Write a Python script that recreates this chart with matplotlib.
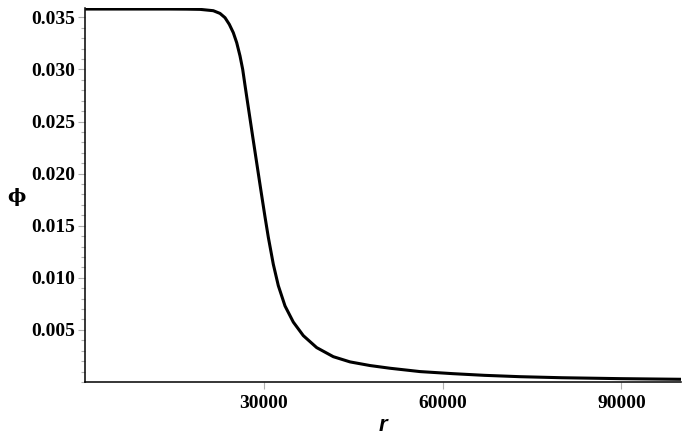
import matplotlib
matplotlib.use("Agg")
import matplotlib.pyplot as plt
from matplotlib.ticker import MultipleLocator, FixedLocator

r_vals = [0, 5000, 10000, 14000, 17000, 19256, 21489, 22614, 23453, 24175,
          24846, 25417, 25971, 26424, 26810, 27196, 27649, 28103, 28489,
          28875, 29328, 29613, 30167, 30721, 31561, 32400, 33525, 34918,
          36597, 38846, 41634, 44437, 47795, 51150, 56180, 61720, 67000,
          72970, 80000, 90000, 100000]
phi_vals = [0.03580, 0.03580, 0.03580, 0.03580, 0.03579, 0.03577, 0.03564,
            0.03538, 0.03497, 0.03433, 0.03353, 0.03257, 0.03130, 0.03000,
            0.02848, 0.02700, 0.02528, 0.02355, 0.02210, 0.02065, 0.01895,
            0.01789, 0.01585, 0.01390, 0.01130, 0.00925, 0.00730, 0.00575,
            0.00445, 0.00330, 0.00243, 0.00193, 0.00158, 0.00132, 0.00100,
            0.00080, 0.00064, 0.00051, 0.00041, 0.00032, 0.00026]

x_ticks = [30000, 60000, 90000]
x_tick_labels = ["30000", "60000", "90000"]
y_ticks = [0.005, 0.010, 0.015, 0.020, 0.025, 0.030, 0.035]
y_tick_labels = ["0.005", "0.010", "0.015", "0.020", "0.025", "0.030", "0.035"]

W, H = 687, 444
fig = plt.figure(figsize=(W / 100, H / 100), dpi=100)
ax = fig.add_axes([85.3 / W, (H - 382) / H, (681 - 85.3) / W, (382 - 8) / H])

ax.plot(r_vals, phi_vals, color="black", linewidth=2.2,
        solid_capstyle="butt", solid_joinstyle="round")
ax.set_xlim(0, 100000)
ax.set_ylim(0, 0.0359)

for s in ("top", "right"):
    ax.spines[s].set_visible(False)
for s in ("left", "bottom"):
    ax.spines[s].set_linewidth(1.1)
    ax.spines[s].set_color("black")

ax.xaxis.set_major_locator(FixedLocator(x_ticks))
ax.set_xticklabels(x_tick_labels)
ax.yaxis.set_major_locator(FixedLocator(y_ticks))
ax.set_yticklabels(y_tick_labels)
ax.yaxis.set_minor_locator(MultipleLocator(0.001))

ax.tick_params(axis="both", which="major", direction="out", length=5,
               width=0.8, color="#b0b0b0")
ax.tick_params(axis="y", which="minor", direction="out", length=3,
               width=0.8, color="#b0b0b0")
ax.tick_params(axis="x", which="major", pad=4)
ax.tick_params(axis="y", which="major", pad=2)

for lab in ax.get_xticklabels() + ax.get_yticklabels():
    lab.set_fontfamily("Liberation Serif")
    lab.set_fontweight("bold")
    lab.set_fontsize(14)

fig.text(383 / W, 1 - 425 / H, "r", fontfamily="Liberation Sans",
         fontweight="bold", fontstyle="italic", fontsize=16,
         ha="center", va="center")
fig.text(16 / W, 1 - 197 / H, "ϕ", fontfamily="DejaVu Serif",
         fontweight="bold", fontsize=14, ha="center", va="center")

fig.savefig("out.png", dpi=100)
